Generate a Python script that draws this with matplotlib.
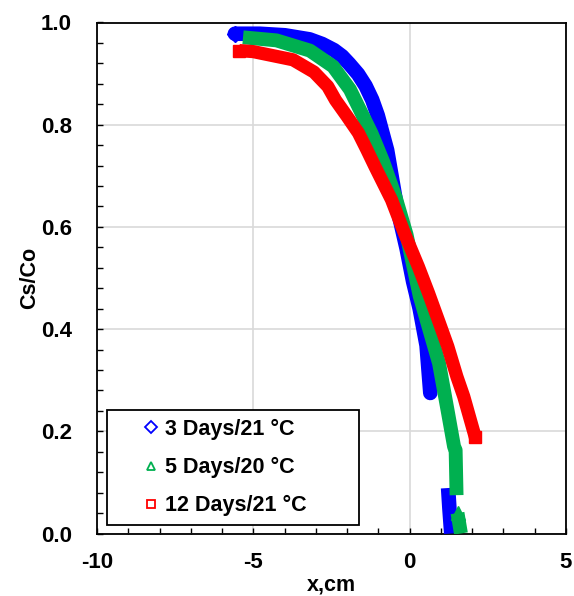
import matplotlib
matplotlib.use("Agg")
import matplotlib.pyplot as plt
from matplotlib.lines import Line2D
from matplotlib.ticker import MultipleLocator

plt.rcParams['font.family'] = ['Liberation Sans', 'DejaVu Sans']
plt.rcParams['font.weight'] = 'bold'
plt.rcParams['axes.unicode_minus'] = False

# Cs/Co profiles (x in cm)
labels = ['3 Days/21 °C', '5 Days/20 °C', '12 Days/21 °C']
colors = ['#0000FF', '#00B050', '#FF0000']
markers = ['D', '^', 's']

blue_x = [-5.59, -4.79, -3.99, -3.20, -2.80, -2.42, -2.16, -1.93, -1.65, -1.41, -1.20, -1.02,
          -0.72, -0.41, -0.10, 0.11, 0.32, 0.54, 0.66]
blue_y = [0.978, 0.978, 0.975, 0.967, 0.958, 0.946, 0.934, 0.919, 0.899, 0.876, 0.849, 0.818,
          0.750, 0.640, 0.558, 0.493, 0.440, 0.368, 0.275]
blue_tail_x = [1.23, 1.27, 1.33]
blue_tail_y = [0.089, 0.050, 0.000]

green_x = [-5.33, -4.26, -3.19, -2.45, -1.91, -1.22, -0.85, -0.45, -0.10, 0.32, 0.94, 1.23, 1.42, 1.47, 1.50]
green_y = [0.971, 0.965, 0.945, 0.914, 0.869, 0.783, 0.728, 0.658, 0.585, 0.465, 0.333, 0.235, 0.170, 0.163, 0.075]
green_tail_x = [1.53, 1.64]
green_tail_y = [0.040, 0.000]

red_x = [-5.45, -5.0, -3.73, -3.06, -2.62, -2.37, -2.01, -1.64, -1.37, -1.11, -0.58, -0.17,
         0.28, 0.60, 0.95, 1.22, 1.51, 1.73, 2.10]
red_y = [0.945, 0.943, 0.927, 0.903, 0.875, 0.848, 0.817, 0.784, 0.751, 0.718, 0.653, 0.588,
         0.522, 0.471, 0.412, 0.366, 0.307, 0.268, 0.188]

fig = plt.figure(figsize=(5.74, 5.96), dpi=100)
ax = fig.add_axes([97 / 574, 62.5 / 596, 469 / 574, 511 / 596])

ax.plot(blue_x, blue_y, color=colors[0], lw=10.5, marker='D', ms=8.5, markevery=[0],
        solid_capstyle='round', solid_joinstyle='round', zorder=3)
ax.plot(blue_tail_x, blue_tail_y, color=colors[0], lw=10.5, solid_capstyle='butt', zorder=3)
ax.plot(green_x, green_y, color=colors[1], lw=10, solid_capstyle='butt', solid_joinstyle='round', zorder=4)
ax.plot(green_tail_x, green_tail_y, color=colors[1], lw=10, marker='^', ms=9.5, markevery=[0],
        solid_capstyle='butt', zorder=4)
ax.plot(red_x, red_y, color=colors[2], lw=9.5, marker='s', ms=9, markevery=[0, -1],
        solid_capstyle='butt', solid_joinstyle='round', zorder=5)

ax.set_xlim(-10, 5)
ax.set_ylim(0, 1.0)
ax.xaxis.set_major_locator(MultipleLocator(5))
ax.xaxis.set_minor_locator(MultipleLocator(1))
ax.yaxis.set_major_locator(MultipleLocator(0.2))
ax.yaxis.set_minor_locator(MultipleLocator(0.04))
ax.yaxis.set_major_formatter(plt.FuncFormatter(lambda v, p: f'{v:.1f}'))

ax.grid(True, which='major', color='#d9d9d9', lw=1.2, zorder=0)
ax.set_axisbelow(True)
ax.tick_params(which='both', direction='in', width=1, colors='black')
ax.tick_params(which='major', length=4.5)
ax.tick_params(which='minor', length=4)
ax.tick_params(axis='x', which='major', pad=13, labelsize=16)
ax.tick_params(axis='y', which='major', pad=18, labelsize=16)
for s in ax.spines.values():
    s.set_linewidth(1.3)
    s.set_color('black')

ax.set_xlabel('x,cm', fontsize=15.5, fontweight='bold')
ax.set_ylabel('Cs/Co', fontsize=15.5, fontweight='bold')
ax.xaxis.set_label_coords(0.5, -0.081)
ax.yaxis.set_label_coords(-0.122, 0.5)

handles = [Line2D([], [], ls='none', marker=m, mfc='white', mec=c, mew=1.3, ms=6, label=l)
           for m, c, l in zip(markers, colors, labels)]
leg = ax.legend(handles=handles, loc='lower left', bbox_to_anchor=(0.021, 0.0166, 0.538, 0.225),
                mode='expand', fontsize=15.5, frameon=True, fancybox=False, framealpha=1,
                edgecolor='black', borderpad=0.4, labelspacing=0.8, handlelength=3.3,
                handletextpad=-1.0, borderaxespad=0)
leg.get_frame().set_linewidth(1.3)

fig.savefig('out.png', dpi=100)
